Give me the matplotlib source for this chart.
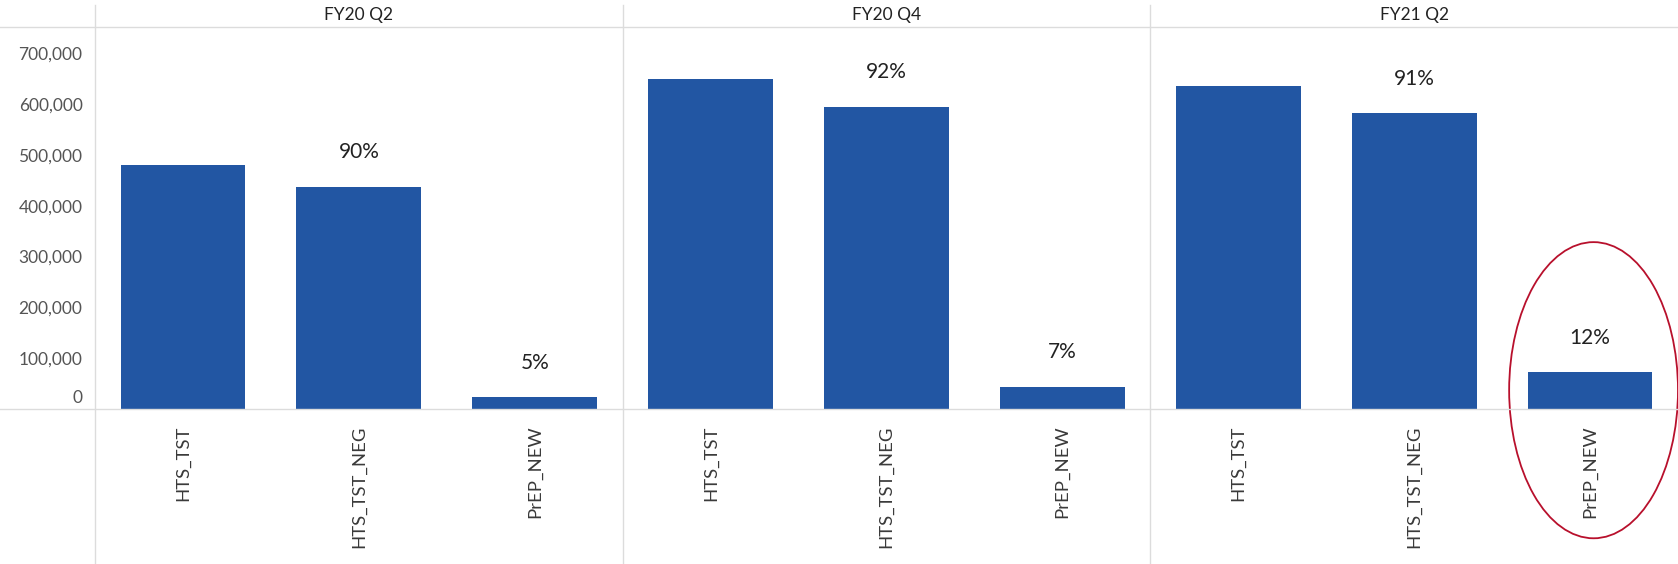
import matplotlib.pyplot as plt
import matplotlib.transforms as mtransforms
from matplotlib.lines import Line2D
from matplotlib.patches import Ellipse

plt.rcParams['font.family'] = ['Lato', 'DejaVu Sans']

periods = ['FY20 Q2', 'FY20 Q4', 'FY21 Q2']
indicators = ['HTS_TST', 'HTS_TST_NEG', 'PrEP_NEW']
hts_tst = [481000, 650000, 635000]
hts_tst_neg = [437000, 595000, 582000]
prep_new = [23000, 44000, 72000]
neg_pct = [90, 92, 91]
prep_pct = [5, 7, 12]

bar_color = '#2256a3'
line_color = '#dcdcdc'

fig = plt.figure(figsize=(16.78, 5.64), dpi=100)
ax = fig.add_axes([95 / 1678, 155 / 564, 1583 / 1678, 382 / 564])

xs, heights, labels = [], [], []
for i in range(len(periods)):
    for j, series in enumerate([hts_tst, hts_tst_neg, prep_new]):
        xs.append(i * 3 + j + 0.5)
        heights.append(series[i])
        labels.append(indicators[j])

ax.bar(xs, heights, width=0.71, color=bar_color)

# percentage labels over NEG and PrEP bars
for i in range(len(periods)):
    for j, pct in [(1, neg_pct[i]), (2, prep_pct[i])]:
        val = [hts_tst, hts_tst_neg, prep_new][j][i]
        ax.annotate(f'{pct}%', (i * 3 + j + 0.5, val), xytext=(0, 25),
                    textcoords='offset points', ha='center', va='center',
                    fontsize=15, color='#222222')

ax.set_xlim(0, 9)
ax.set_ylim(0, 752000)
ax.set_yticks(range(0, 700001, 100000))
ax.set_yticklabels([f'{v:,}' for v in range(0, 700001, 100000)])
ax.set_xticks(xs)
ax.set_xticklabels(labels, rotation=90, va='top', ha='center')
ax.tick_params(axis='both', length=0, labelsize=12.5, colors='#555555')
ax.tick_params(axis='x', pad=12, labelsize=13.3, labelcolor='#3a3a3a')
ax.tick_params(axis='y', pad=9)
zero_lbl = ax.get_yticklabels()[0]
zero_lbl.set_transform(zero_lbl.get_transform() +
                       mtransforms.ScaledTranslation(0, 9 / 72, fig.dpi_scale_trans))
for s in ax.spines.values():
    s.set_visible(False)

# panel dividers and header / baseline rules
vtrans = mtransforms.blended_transform_factory(ax.transData, fig.transFigure)
for xd in [0, 3, 6]:
    fig.add_artist(Line2D([xd, xd], [0, 1 - 5 / 564], transform=vtrans,
                          color=line_color, lw=1))
htrans = mtransforms.blended_transform_factory(fig.transFigure, ax.transAxes)
for yd in [0, 1]:
    fig.add_artist(Line2D([0, 1], [yd, yd], transform=htrans, color=line_color, lw=1))

for i, p in enumerate(periods):
    ax.text(i * 3 + 1.5, 1 - 15 / 564, p, transform=vtrans, ha='center',
            va='center', fontsize=12.5, color='#222222')

# highlight circle around FY21 Q2 PrEP_NEW
ax.add_patch(Ellipse((8.52, 37000), 0.96, 583000, fill=False,
                     edgecolor='#b8102c', lw=1.3, clip_on=False))

fig.savefig('out.png', dpi=100)
